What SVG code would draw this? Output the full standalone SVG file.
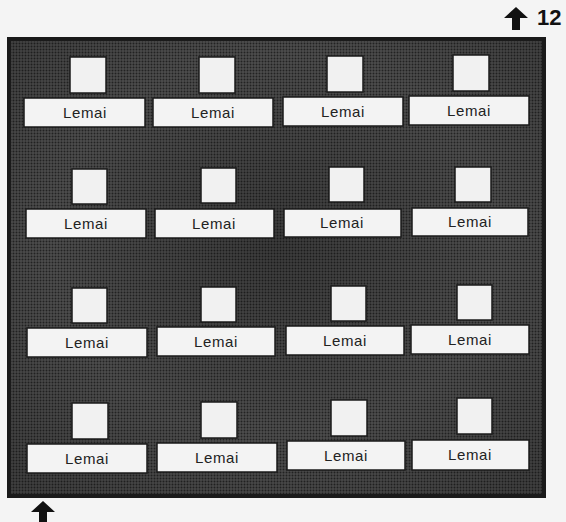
<svg xmlns="http://www.w3.org/2000/svg" width="566" height="522" viewBox="0 0 566 522">
<defs>
<pattern id="dots" width="3" height="3" patternUnits="userSpaceOnUse">
<rect width="3" height="3" fill="#555"/>
<circle cx="1.5" cy="1.5" r="1" fill="#262626"/>
</pattern>
<radialGradient id="shade" cx="0.5" cy="0.45" r="0.7">
<stop offset="0" stop-color="#000" stop-opacity="0.3"/>
<stop offset="0.6" stop-color="#000" stop-opacity="0.08"/>
<stop offset="1" stop-color="#000" stop-opacity="0.25"/>
</radialGradient>
<polygon id="arrow" points="0,0 12,11 4,11 4,23 -4,23 -4,11 -12,11" fill="#111"/>
</defs>
<style>
.sq{fill:#f1f1f1;stroke:#1a1a1a;stroke-width:1.5}
.lb{fill:#f3f3f3;stroke:#1a1a1a;stroke-width:1.5}
.tx{font-family:"Liberation Sans",Arial,sans-serif;font-size:15px;fill:#222;text-anchor:middle;letter-spacing:0.6px}
.num{font-family:"Liberation Sans",Arial,sans-serif;font-size:22px;font-weight:bold;fill:#111}
</style>
<rect width="566" height="522" fill="#f4f4f4"/>
<g id="board">
<rect x="9" y="39" width="535" height="457" fill="url(#dots)" stroke="#1a1a1a" stroke-width="4"/>
<rect x="11" y="41" width="531" height="453" fill="url(#shade)"/>
</g>
<g id="row1">
<g id="n1"><rect class="sq" x="70" y="57" width="36" height="36"/><rect class="lb" x="24" y="98" width="121" height="29"/><text class="tx" x="85" y="118">Lemai</text></g>
<g id="n2"><rect class="sq" x="199" y="57" width="36" height="36"/><rect class="lb" x="153" y="98" width="120" height="29"/><text class="tx" x="213" y="118">Lemai</text></g>
<g id="n3"><rect class="sq" x="327" y="56" width="36" height="36"/><rect class="lb" x="283" y="97" width="120" height="29"/><text class="tx" x="343" y="117">Lemai</text></g>
<g id="n4"><rect class="sq" x="453" y="55" width="36" height="36"/><rect class="lb" x="409" y="96" width="120" height="29"/><text class="tx" x="469" y="116">Lemai</text></g>
</g>
<g id="row2">
<g id="n5"><rect class="sq" x="72" y="169" width="35" height="35"/><rect class="lb" x="26" y="209" width="120" height="29"/><text class="tx" x="86" y="229">Lemai</text></g>
<g id="n6"><rect class="sq" x="201" y="168" width="35" height="35"/><rect class="lb" x="155" y="209" width="119" height="29"/><text class="tx" x="214" y="229">Lemai</text></g>
<g id="n7"><rect class="sq" x="329" y="167" width="35" height="35"/><rect class="lb" x="284" y="209" width="117" height="28"/><text class="tx" x="342" y="228">Lemai</text></g>
<g id="n8"><rect class="sq" x="455" y="167" width="36" height="35"/><rect class="lb" x="412" y="208" width="116" height="28"/><text class="tx" x="470" y="227">Lemai</text></g>
</g>
<g id="row3">
<g id="n9"><rect class="sq" x="72" y="288" width="35" height="35"/><rect class="lb" x="27" y="328" width="120" height="29"/><text class="tx" x="87" y="348">Lemai</text></g>
<g id="n10"><rect class="sq" x="201" y="287" width="35" height="35"/><rect class="lb" x="157" y="327" width="118" height="29"/><text class="tx" x="216" y="347">Lemai</text></g>
<g id="n11"><rect class="sq" x="331" y="286" width="35" height="35"/><rect class="lb" x="286" y="326" width="118" height="29"/><text class="tx" x="345" y="346">Lemai</text></g>
<g id="n12"><rect class="sq" x="457" y="285" width="35" height="35"/><rect class="lb" x="411" y="325" width="118" height="29"/><text class="tx" x="470" y="345">Lemai</text></g>
</g>
<g id="row4">
<g id="n13"><rect class="sq" x="72" y="403" width="36" height="36"/><rect class="lb" x="27" y="444" width="120" height="29"/><text class="tx" x="87" y="464">Lemai</text></g>
<g id="n14"><rect class="sq" x="201" y="402" width="36" height="36"/><rect class="lb" x="157" y="443" width="120" height="29"/><text class="tx" x="217" y="463">Lemai</text></g>
<g id="n15"><rect class="sq" x="331" y="400" width="36" height="36"/><rect class="lb" x="287" y="441" width="118" height="29"/><text class="tx" x="346" y="461">Lemai</text></g>
<g id="n16"><rect class="sq" x="457" y="398" width="35" height="36"/><rect class="lb" x="412" y="440" width="117" height="30"/><text class="tx" x="470" y="460">Lemai</text></g>
</g>
<g id="connectors">
<use href="#arrow" x="516" y="7"/>
<use href="#arrow" x="43" y="501"/>
</g>
<g id="label12"><text class="num" x="537" y="25">12</text></g>
</svg>
